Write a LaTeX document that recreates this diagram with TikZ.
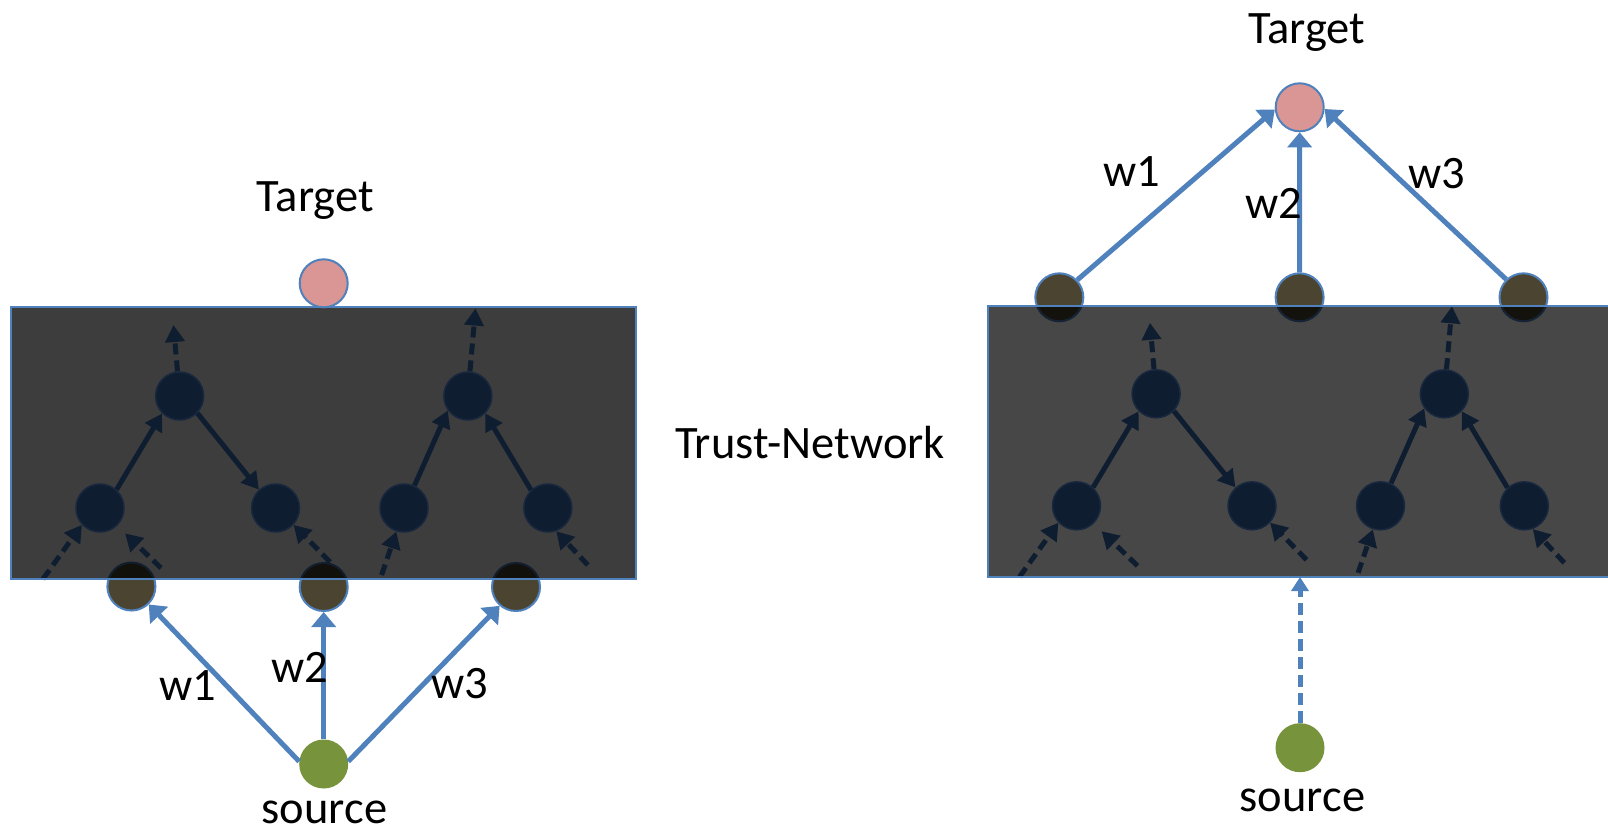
\documentclass[tikz,border=0pt]{standalone}
\usepackage{fontspec}
\setmainfont{Carlito}
\usetikzlibrary{arrows.meta,calc}
\definecolor{bluel}{HTML}{4F81BD}
\definecolor{navy}{HTML}{0F1D31}
\definecolor{navyedge}{HTML}{18283F}
\definecolor{olivebr}{HTML}{4B4430}
\definecolor{pinkt}{HTML}{D99694}
\definecolor{greens}{HTML}{77933C}
\begin{document}
\begin{tikzpicture}[x=1pt,y=-1pt,
  lbl/.style={font=\fontsize{46.5}{56}\selectfont, inner sep=0pt, anchor=base},
  innernode/.style={circle, minimum size=48pt, inner sep=0pt, fill=navy, draw=navyedge, line width=1.5pt},
  edgenode/.style={circle, minimum size=48pt, inner sep=0pt, fill=olivebr, draw=bluel, line width=2pt},
  tnode/.style={circle, minimum size=48pt, inner sep=0pt, fill=pinkt, draw=bluel, line width=2pt},
  snode/.style={circle, minimum size=49pt, inner sep=0pt, fill=greens},
  netbox/.style={rectangle, minimum width=625pt, minimum height=271pt, inner sep=0pt, draw=none, fill=black},
  netborder/.style={draw=bluel, line width=2pt},
  iarr/.style={draw=navy, line width=5pt, -{Triangle[length=17pt,width=19pt]}},
  idash/.style={iarr, dash pattern=on 11pt off 6pt},
  warr/.style={draw=bluel, line width=5pt, -{Triangle[length=15pt,width=24pt]}},
  wdash/.style={draw=bluel, line width=5pt, dash pattern=on 12pt off 6pt, -{Triangle[length=14pt,width=17pt]}},
]
\useasboundingbox[fill=white] (0,0) rectangle (1608,833);

% nodes on the border (drawn before the translucent box)
\node[edgenode] (LE1) at (131.4,586.5) {};
\node[edgenode] (LE2) at (323.7,587) {};
\node[edgenode] (LE3) at (516,587) {};
\node[edgenode] (RE1) at (1059.3,297.3) {};
\node[edgenode] (RE2) at (1299.6,297.3) {};
\node[edgenode] (RE3) at (1523.5,297.3) {};

% translucent boxes
\node[netbox, fill opacity=0.76] (Lnet) at (323.5,443) {};
\node[netbox, fill opacity=0.72] (Rnet) at (1300.5,441.3) {};

% inner trust networks
\foreach \p/\dx/\dy in {L/0/0, R/976.5/-2.2} {
  \begin{scope}[shift={(\dx,\dy)}]
    \node[innernode] (\p-t1) at (179.6,396) {};
    \node[innernode] (\p-b1) at (100,508) {};
    \node[innernode] (\p-b2) at (275.5,508) {};
    \node[innernode] (\p-t2) at (467.8,396) {};
    \node[innernode] (\p-b3) at (404,508) {};
    \node[innernode] (\p-b4) at (547.8,508) {};
    \coordinate (\p-u1) at (173.5,325);
    \coordinate (\p-u2) at (475.5,308.5);
    \coordinate (\p-c1) at (43,579);
    \coordinate (\p-c2) at (161,568);
    \coordinate (\p-c3) at (330,562);
    \coordinate (\p-c4) at (381.6,575);
    \coordinate (\p-c5) at (587.8,565);
    \draw[idash] (\p-t1) -- (\p-u1);
    \draw[idash] (\p-t2) -- (\p-u2);
    \draw[iarr] (\p-b1.48) -- (\p-t1.225);
    \draw[iarr] (\p-t1.316) -- (\p-b2.132);
    \draw[iarr] (\p-b3.65) -- (\p-t2.216);
    \draw[iarr] (\p-b4.133) -- (\p-t2.315);
    \draw[idash] (\p-c1) -- (\p-b1.223);
    \draw[idash, shorten >=11pt] (\p-c2) -- (\p-b1.314);
    \draw[idash] (\p-c3) -- (\p-b2.317);
    \draw[idash] (\p-c4) -- (\p-b3.252);
    \draw[idash] (\p-c5) -- (\p-b4.290);
  \end{scope}
}

% box borders
\draw[netborder] (Lnet.north west) rectangle (Lnet.south east);
\draw[netborder] (Rnet.north west) rectangle (Rnet.south east);

% left panel
\node[tnode] (LT) at (323.7,283.3) {};
\node[snode] (LS) at (323.7,764) {};
\draw[warr] (LS.174) -- (LE1.314);
\draw[warr] (LS.90) -- (LE2.270);
\draw[warr] (LS.6) -- (LE3.229);
\node[lbl] (LTlab) at (315.3,211.7) {Target};
\node[lbl] (LSlab) at (324.5,823) {source};
\node[lbl] (Lw1) at (188,700) {w1};
\node[lbl] (Lw2) at (299.6,682.7) {w2};
\node[lbl] (Lw3) at (460,698.3) {w3};

% middle label
\node[lbl] (TN) at (810,458.3) {Trust-Network};

% right panel
\node[tnode] (RT) at (1299.7,107.3) {};
\node[snode] (RS) at (1300,747.7) {};
\draw[warr] (RE1.44) -- (RT.185);
\draw[warr] (RE2.90) -- (RT.270);
\draw[warr] (RE3.134) -- (RT.356);
\draw[wdash] (RS) -- (RS |- Rnet.south);
\node[lbl] (RTlab) at (1307,43.3) {Target};
\node[lbl] (RSlab) at (1302.5,811.7) {source};
\node[lbl] (Rw1) at (1132,186) {w1};
\node[lbl] (Rw2) at (1274,218.3) {w2};
\node[lbl] (Rw3) at (1436.6,188.3) {w3};
\end{tikzpicture}
\end{document}
